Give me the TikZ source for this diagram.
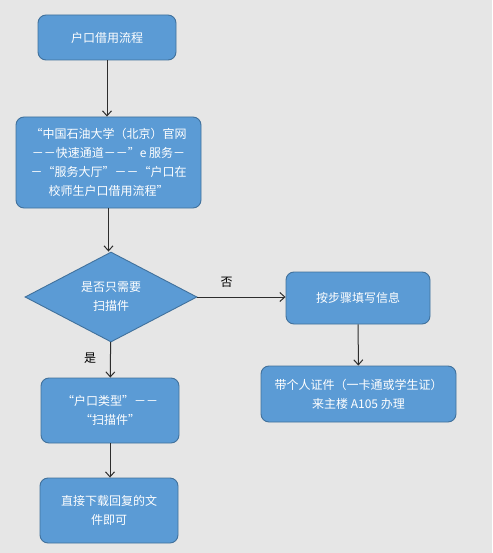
\documentclass[tikz,border=0pt]{standalone}
\usepackage{fontspec}
\usetikzlibrary{shapes.geometric, arrows.meta}
\newfontfamily\cjk{Noto Sans CJK SC}
\definecolor{bg}{RGB}{230,230,230}
\definecolor{boxfill}{RGB}{91,155,213}
\definecolor{boxline}{RGB}{65,113,156}
\definecolor{arrowgray}{RGB}{45,45,45}

\begin{document}
\begin{tikzpicture}[x=1pt, y=-1pt, font=\cjk\fontsize{12}{19}\selectfont,
	box/.style = {shape=rectangle, rounded corners=8pt, draw=boxline, line width=0.9pt, fill=boxfill, text=white, align=center, inner sep=0pt},
	decision/.style = {shape=diamond, draw=boxline, line width=0.9pt, fill=boxfill, text=white, align=center, inner sep=0pt, minimum width=172pt, minimum height=90pt},
	arrow/.style = {draw=arrowgray, line width=1pt, -{Straight Barb[length=5pt, width=9pt]}}]
	\fill[bg] (0,0) rectangle (492,553);
	\useasboundingbox (0,0) rectangle (492,553);
	\node[box, minimum width=138pt, minimum height=45pt] (start) at (107,37.5) {户口借用流程};
	\node[box, minimum width=185pt, minimum height=91pt] (site) at (108.5,162.5) {“中国石油大学（北京）官网\\－－快速通道－－”e 服务－\\－“服务大厅”－－“户口在\\校师生户口借用流程”};
	\node[decision] (scan) at (111,297) {是否只需要\\扫描件};
	\node[box, minimum width=138pt, minimum height=65pt] (type) at (110,410.5) {“户口类型”－－\\“扫描件”};
	\node[box, minimum width=138pt, minimum height=65pt] (down) at (109,510.5) {直接下载回复的文\\件即可};
	\node[box, minimum width=144pt, minimum height=52pt] (fill) at (358,298) {按步骤填写信息};
	\node[box, minimum width=195pt, minimum height=56pt] (card) at (358.5,394) {带个人证件（一卡通或学生证）\\来主楼 A105 办理};
	% connectors
	\draw[arrow] (start) -- (start |- site.north);
	\draw[arrow] (site) -- (site |- scan.north);
	\draw[arrow] (scan) -- (type);
	\draw[arrow] (type) -- (type |- down.north);
	\draw[arrow] (scan.east) -- (scan.east -| fill.west) node[pos=0.33, above=6pt, text=black] (no) {否};
	\draw[arrow] (fill) -- (card);
	\node[text=black] (yes) at (90,358) {是};
\end{tikzpicture}
\end{document}
